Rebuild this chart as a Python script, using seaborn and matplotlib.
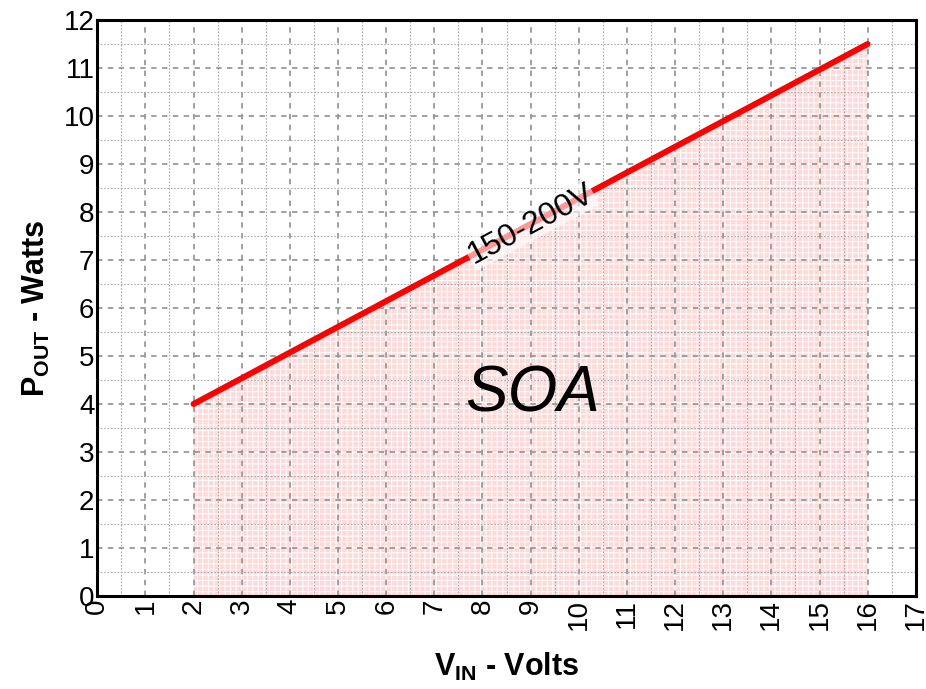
import numpy as np
import pandas as pd
import seaborn as sns
import matplotlib.pyplot as plt
from matplotlib.ticker import MultipleLocator

# SOA boundary data
vin = [2, 16]
pout = [4, 11.5]
curve_label = '150-200V'
region_label = 'SOA'

df = pd.DataFrame({'vin': vin, 'pout': pout})

sns.set_style('white')
plt.rcParams['font.family'] = ['Liberation Sans', 'DejaVu Sans']
plt.rcParams['text.color'] = 'black'
plt.rcParams['axes.labelcolor'] = 'black'
plt.rcParams['xtick.color'] = 'black'
plt.rcParams['ytick.color'] = 'black'
plt.rcParams['mathtext.fontset'] = 'custom'
plt.rcParams['mathtext.rm'] = 'Liberation Sans:bold'
plt.rcParams['mathtext.bf'] = 'Liberation Sans:bold'
plt.rcParams['hatch.color'] = '#f28c8c'
plt.rcParams['hatch.linewidth'] = 0.7

fig = plt.figure(figsize=(9.26, 6.89), dpi=100)
ax = fig.add_axes([0.105, 0.135, 0.884, 0.836])

# shaded safe operating area
ax.fill_between(df['vin'], 0, df['pout'], facecolor='#fddada', edgecolor='none',
                hatch='+++', zorder=1)

sns.lineplot(data=df, x='vin', y='pout', color='red', linewidth=4.3, ax=ax, zorder=3)

ax.set_xlim(0, 17)
ax.set_ylim(0, 12)
ax.xaxis.set_major_locator(MultipleLocator(1))
ax.yaxis.set_major_locator(MultipleLocator(1))
ax.xaxis.set_minor_locator(MultipleLocator(0.5))
ax.yaxis.set_minor_locator(MultipleLocator(0.5))
ax.grid(which='major', color='#999999', linestyle=(0, (3, 3)), linewidth=1.3, zorder=2)
ax.grid(which='minor', color='#aaaaaa', linestyle=(0, (1.5, 1.5)), linewidth=0.8, zorder=2)
ax.set_axisbelow(False)
ax.tick_params(axis='both', which='both', length=0, labelsize=20, pad=2)
ax.tick_params(axis='x', labelrotation=90)

for s in ax.spines.values():
    s.set_linewidth(2.2)
    s.set_color('black')
    s.set_zorder(5)

ax.set_xlabel(r'$\mathbf{V_{IN}}$ - Volts', fontsize=22, fontweight='bold', labelpad=15)
ax.set_ylabel(r'$\mathbf{P_{OUT}}$ - Watts', fontsize=22, fontweight='bold', labelpad=8)

# label along the line
fig.canvas.draw()
p1 = ax.transData.transform((vin[0], pout[0]))
p2 = ax.transData.transform((vin[1], pout[1]))
angle = np.degrees(np.arctan2(p2[1] - p1[1], p2[0] - p1[0]))
xm = 9
ym = pout[0] + (pout[1] - pout[0]) * (xm - vin[0]) / (vin[1] - vin[0])
ax.text(xm, ym, curve_label, rotation=angle, rotation_mode='anchor', ha='center', va='center',
        fontsize=23, zorder=4,
        bbox=dict(facecolor='white', alpha=0.6, edgecolor='none', pad=0.5))

ax.text(9.05, 4.2, region_label, fontsize=46, style='italic', ha='center', va='center', zorder=4)

fig.savefig('out.png', dpi=100)
